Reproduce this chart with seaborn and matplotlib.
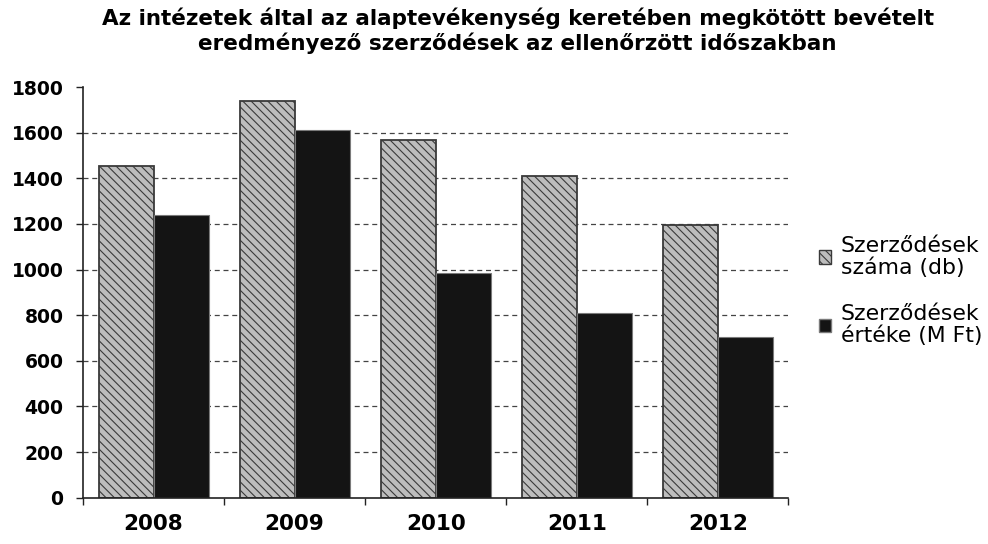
import numpy as np
import pandas as pd
import matplotlib
matplotlib.use('Agg')
import matplotlib.pyplot as plt
from matplotlib.patches import Patch
import seaborn as sns

# ============================================================
# Data
# ============================================================

YEARS = ['2008', '2009', '2010', '2011', '2012']
SZAMA = [1455, 1740, 1570, 1410, 1195]      # Szerződések száma (db)
ERTEKE = [1240, 1610, 985, 810, 705]        # Szerződések értéke (M Ft)

SERIES = ['Szerződések\nszáma (db)', 'Szerződések\nértéke (M Ft)']
TITLE = ('Az intézetek által az alaptevékenység keretében megkötött bevételt\n'
         'eredményező szerződések az ellenőrzött időszakban')

LIGHT, DARK = '#bdbdbd', '#141414'

# ============================================================
# Plot
# ============================================================

df = pd.DataFrame({
    'year': YEARS * 2,
    'value': SZAMA + ERTEKE,
    'series': [SERIES[0]] * len(YEARS) + [SERIES[1]] * len(YEARS),
})

sns.set_style('white')
plt.rcParams['font.family'] = ['DejaVu Sans']
plt.rcParams['hatch.linewidth'] = 0.8
plt.rcParams['text.color'] = 'black'
plt.rcParams['xtick.labelcolor'] = 'black'
plt.rcParams['ytick.labelcolor'] = 'black'

fig = plt.figure(figsize=(9.88, 5.44), dpi=100)
ax = fig.add_axes([0.084, 0.085, 0.714, 0.755])

sns.barplot(data=df, x='year', y='value', hue='series', order=YEARS,
            hue_order=SERIES, palette=[LIGHT, DARK],
            width=0.78, gap=0, legend=False, ax=ax, saturation=1)

n = len(YEARS)
for i, bar in enumerate(ax.patches[:2 * n]):
    if i < n:
        bar.set_hatch('\\\\\\\\')
        bar.set_edgecolor('#3a3a3a')
        bar.set_linewidth(1.3)
    else:
        bar.set_hatch('::')
        bar.set_edgecolor('#7a7a7a')
        bar.set_linewidth(0.8)

ax.set_ylim(0, 1800)
ax.set_xlim(-0.5, n - 0.5)
ax.set_yticks(np.arange(0, 1801, 200))
ax.yaxis.grid(True, linestyle=(0, (4, 3)), color='#444444', linewidth=0.9)
ax.set_axisbelow(True)
for gl in ax.get_ygridlines():
    if gl.get_ydata()[0] in (0, 1800):
        gl.set_visible(False)

ax.set_xlabel('')
ax.set_ylabel('')
ax.set_xticks(range(n))
ax.set_xticklabels(YEARS, fontsize=15.5, fontweight='bold', color='black')
ax.set_xticks(np.arange(-0.5, n), minor=True)
ax.tick_params(axis='x', which='major', length=0, pad=12)
ax.tick_params(axis='x', which='minor', length=5, width=1, color='#222222',
               direction='out', bottom=True)
ax.tick_params(axis='y', length=5, width=1, color='#222222', direction='out',
               left=True, labelsize=13.5, pad=9, labelcolor='black')
for lab in ax.get_yticklabels():
    lab.set_fontweight('bold')

sns.despine(ax=ax, top=True, right=True)
for side in ('left', 'bottom'):
    ax.spines[side].set_color('#222222')
    ax.spines[side].set_linewidth(1.2)

fig.suptitle(TITLE, fontsize=15.5, fontweight='bold', x=0.524, y=0.987,
             linespacing=1.25, color='black')

handles = [
    Patch(facecolor=LIGHT, edgecolor='#3a3a3a', hatch='\\\\\\\\', label=SERIES[0]),
    Patch(facecolor=DARK, edgecolor='#7a7a7a', hatch='::', label=SERIES[1]),
]
leg = fig.legend(handles=handles, loc='center left', bbox_to_anchor=(0.829, 0.465),
                 frameon=False, fontsize=15.8, handlelength=0.55, handleheight=0.55,
                 handletextpad=0.45, labelspacing=1.2, borderaxespad=0, borderpad=0)
for t in leg.get_texts():
    t.set_linespacing(1.1)

fig.savefig('out.png', dpi=100)
